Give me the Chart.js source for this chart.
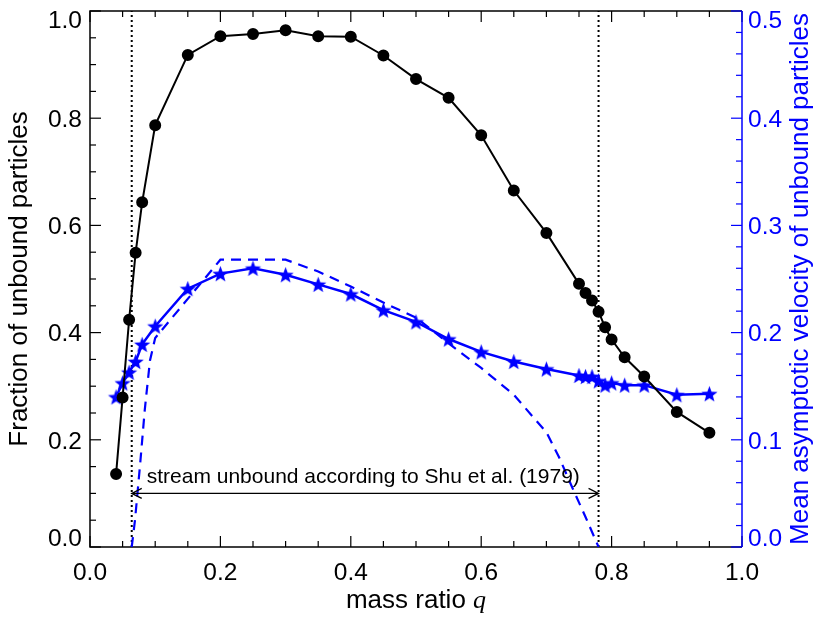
<!DOCTYPE html>
<html>
<head>
<meta charset="utf-8">
<script src="https://cdn.jsdelivr.net/npm/chart.js@4/dist/chart.umd.min.js"></script>
<style>
  body { margin: 0; background: #fff; }
  #wrap { width: 830px; height: 624px; position: relative; }
</style>
</head>
<body>
<div id="wrap"><canvas id="myChart"></canvas></div>
<script>
// fraction of unbound particles (left axis)
const qFrac = [0.04, 0.05, 0.06, 0.07, 0.08, 0.10, 0.15, 0.20, 0.25, 0.30, 0.35, 0.40, 0.45, 0.50,
  0.55, 0.60, 0.65, 0.70, 0.75, 0.76, 0.77, 0.78, 0.79, 0.80, 0.82, 0.85, 0.90, 0.95];
const fracUnbound = [0.136, 0.279, 0.424, 0.549, 0.643, 0.787, 0.918, 0.953, 0.957, 0.964, 0.953, 0.952, 0.917, 0.873,
  0.838, 0.768, 0.665, 0.586, 0.491, 0.474, 0.460, 0.439, 0.410, 0.387, 0.354, 0.318, 0.252, 0.213];

// mean asymptotic velocity of unbound particles (right axis)
const qVel = [0.04, 0.05, 0.06, 0.07, 0.08, 0.10, 0.15, 0.20, 0.25, 0.30, 0.35, 0.40, 0.45, 0.50,
  0.55, 0.60, 0.65, 0.70, 0.75, 0.76, 0.77, 0.78, 0.79, 0.80, 0.82, 0.85, 0.90, 0.95];
const velUnbound = [0.140, 0.153, 0.163, 0.173, 0.189, 0.206, 0.241, 0.255, 0.260, 0.254, 0.245, 0.236, 0.221, 0.210,
  0.194, 0.182, 0.173, 0.166, 0.160, 0.159, 0.159, 0.155, 0.151, 0.153, 0.151, 0.151, 0.142, 0.143];

// dashed curve (right axis)
const qTheory = [0.064, 0.069, 0.077, 0.084, 0.092, 0.10, 0.20, 0.30, 0.35, 0.40, 0.45, 0.50,
  0.55, 0.60, 0.65, 0.70, 0.72, 0.74, 0.76, 0.78];
const velTheory = [0.0, 0.025, 0.078, 0.128, 0.174, 0.195, 0.268, 0.268, 0.257, 0.243, 0.228, 0.214,
  0.190, 0.167, 0.142, 0.107, 0.083, 0.055, 0.028, 0.0];

// Shu et al. (1979) limits
const shuLimits = [0.064, 0.78];
const arrowLevel = 0.1;
const shuLabel = 'stream unbound according to Shu et al. (1979)';

const xTicks = [0.0, 0.2, 0.4, 0.6, 0.8, 1.0];
const fracTicks = [0.0, 0.2, 0.4, 0.6, 0.8, 1.0];
const velTicks = [0.0, 0.1, 0.2, 0.3, 0.4, 0.5];

const BLUE = '#0000ff';
const SANS = '"Liberation Sans", Arial, Helvetica, sans-serif';
const SERIF_I = 'italic 26px "Liberation Serif", "Times New Roman", serif';

function pts(xs, ys) {
    return xs.map((x, i) => ({ x: x, y: ys[i] }));
}

function makeStar(r, color) {
    const c = document.createElement('canvas');
    const s = Math.ceil(r * 2) + 2;
    c.width = s; c.height = s;
    const g = c.getContext('2d');
    g.fillStyle = color;
    g.beginPath();
    for (let i = 0; i < 10; i++) {
        const rad = i % 2 ? r * 0.42 : r;
        const a = -Math.PI / 2 + i * Math.PI / 5;
        g.lineTo(s / 2 + rad * Math.cos(a), s / 2 + rad * Math.sin(a) + r * 0.1);
    }
    g.closePath();
    g.fill();
    return c;
}

// axis frame, inward ticks, tick labels (end labels kept inside the axis), titles, arrow
const framePlugin = {
    id: 'frame',
    beforeDatasetsDraw(chart) {
        const ctx = chart.ctx;
        const { left, right, top, bottom } = chart.chartArea;
        const sx = chart.scales.x, sy = chart.scales.y, sy2 = chart.scales.y2;
        ctx.save();
        ctx.lineWidth = 1.2;
        ctx.strokeStyle = '#000';
        for (let i = 0; i <= 20; i++) {
            const px = sx.getPixelForValue(i * 0.05);
            const len = i % 4 === 0 ? 11 : 6;
            ctx.beginPath();
            ctx.moveTo(px, bottom); ctx.lineTo(px, bottom - len);
            ctx.moveTo(px, top); ctx.lineTo(px, top + len);
            ctx.stroke();
        }
        for (let i = 0; i <= 20; i++) {
            const py = sy.getPixelForValue(i * 0.05);
            const len = i % 4 === 0 ? 11 : 6;
            ctx.beginPath();
            ctx.moveTo(left, py); ctx.lineTo(left + len, py);
            ctx.stroke();
        }
        ctx.lineWidth = 1.5;
        ctx.beginPath();
        ctx.moveTo(right, top); ctx.lineTo(left, top); ctx.lineTo(left, bottom); ctx.lineTo(right, bottom);
        ctx.stroke();
        ctx.strokeStyle = BLUE;
        ctx.lineWidth = 1.2;
        for (let i = 0; i <= 25; i++) {
            const py = sy2.getPixelForValue(i * 0.02);
            const len = i % 5 === 0 ? 11 : 6;
            ctx.beginPath();
            ctx.moveTo(right, py); ctx.lineTo(right - len, py);
            ctx.stroke();
        }
        ctx.lineWidth = 1.5;
        ctx.beginPath();
        ctx.moveTo(right, top); ctx.lineTo(right, bottom);
        ctx.stroke();

        // tick labels
        ctx.font = '24.5px ' + SANS;
        ctx.textBaseline = 'alphabetic';
        const clampY = py => Math.min(Math.max(py + 8.7, top + 17), bottom - 1);
        ctx.fillStyle = '#000';
        ctx.textAlign = 'center';
        xTicks.forEach(v => ctx.fillText(v.toFixed(1), sx.getPixelForValue(v), bottom + 33));
        ctx.textAlign = 'right';
        fracTicks.forEach(v => ctx.fillText(v.toFixed(1), left - 8, clampY(sy.getPixelForValue(v))));
        ctx.fillStyle = BLUE;
        ctx.textAlign = 'left';
        velTicks.forEach(v => ctx.fillText(v.toFixed(1), right + 6, clampY(sy2.getPixelForValue(v))));
        ctx.restore();
    },
    afterDatasetsDraw(chart) {
        const ctx = chart.ctx;
        const { left, right, top, bottom } = chart.chartArea;
        const sx = chart.scales.x, sy = chart.scales.y;
        ctx.save();
        const x0 = sx.getPixelForValue(shuLimits[0]);
        const x1 = sx.getPixelForValue(shuLimits[1]);
        const ya = sy.getPixelForValue(arrowLevel);
        ctx.strokeStyle = '#000';
        ctx.lineWidth = 1.3;
        ctx.beginPath();
        ctx.moveTo(x0, ya); ctx.lineTo(x1, ya);
        ctx.moveTo(x0 + 10, ya - 5); ctx.lineTo(x0, ya); ctx.lineTo(x0 + 10, ya + 5);
        ctx.moveTo(x1 - 10, ya - 5); ctx.lineTo(x1, ya); ctx.lineTo(x1 - 10, ya + 5);
        ctx.stroke();
        ctx.fillStyle = '#000';
        ctx.font = '21px ' + SANS;
        ctx.textAlign = 'left';
        ctx.textBaseline = 'alphabetic';
        ctx.fillText(shuLabel, x0 + 15, ya - 10);

        // x title with italic q
        const t1 = 'mass ratio ';
        ctx.font = '26px ' + SANS;
        const w1 = ctx.measureText(t1).width;
        ctx.font = SERIF_I;
        const w2 = ctx.measureText('q').width;
        const cx = (left + right) / 2;
        const by = bottom + 61;
        ctx.font = '26px ' + SANS;
        ctx.fillText(t1, cx - (w1 + w2) / 2, by);
        ctx.font = SERIF_I;
        ctx.fillText('q', cx - (w1 + w2) / 2 + w1, by);

        // y titles, both reading bottom to top
        const cy = (top + bottom) / 2;
        ctx.font = '26px ' + SANS;
        ctx.textAlign = 'center';
        ctx.save();
        ctx.translate(27, cy);
        ctx.rotate(-Math.PI / 2);
        ctx.fillStyle = '#000';
        ctx.fillText('Fraction of unbound particles', 0, 0);
        ctx.restore();
        ctx.translate(808, cy);
        ctx.rotate(-Math.PI / 2);
        ctx.fillStyle = BLUE;
        ctx.fillText('Mean asymptotic velocity of unbound particles', 0, 0);
        ctx.restore();
    }
};

const ctx = document.getElementById('myChart').getContext('2d');
const starImg = makeStar(8.5, BLUE);
const noPad = s => { s.paddingTop = 0; s.paddingBottom = 0; s.paddingLeft = 0; s.paddingRight = 0; };

const myChart = new Chart(ctx, {
    type: 'line',
    data: {
        datasets: [
            {
                label: 'Fraction of unbound particles',
                data: pts(qFrac, fracUnbound),
                yAxisID: 'y',
                borderColor: '#000',
                backgroundColor: '#000',
                borderWidth: 2,
                pointRadius: 5,
                pointStyle: 'circle',
                order: 1,
            },
            {
                label: 'Mean asymptotic velocity',
                data: pts(qVel, velUnbound),
                yAxisID: 'y2',
                borderColor: BLUE,
                backgroundColor: BLUE,
                borderWidth: 2.5,
                pointStyle: starImg,
                order: 2,
            },
            {
                label: 'theory',
                data: pts(qTheory, velTheory),
                yAxisID: 'y2',
                borderColor: BLUE,
                borderWidth: 2.2,
                borderDash: [10, 7],
                pointRadius: 0,
                order: 3,
            },
            {
                label: 'Shu lower',
                data: pts([shuLimits[0], shuLimits[0]], [0, 1]),
                yAxisID: 'y',
                borderColor: '#000',
                borderWidth: 2,
                borderDash: [2, 3],
                pointRadius: 0,
                order: 4,
            },
            {
                label: 'Shu upper',
                data: pts([shuLimits[1], shuLimits[1]], [0, 1]),
                yAxisID: 'y',
                borderColor: '#000',
                borderWidth: 2,
                borderDash: [2, 3],
                pointRadius: 0,
                order: 4,
            },
        ],
    },
    options: {
        responsive: true,
        maintainAspectRatio: false,
        animation: false,
        layout: { padding: { top: 11, left: 0, right: 0, bottom: 0 } },
        plugins: { legend: { display: false }, tooltip: { enabled: false } },
        scales: {
            x: {
                type: 'linear',
                min: 0, max: 1,
                grid: { display: false },
                border: { display: false },
                ticks: { display: false },
                afterFit: s => { s.height = 77; noPad(s); },
            },
            y: {
                position: 'left',
                min: 0, max: 1,
                grid: { display: false },
                border: { display: false },
                ticks: { display: false },
                afterFit: s => { s.width = 90; noPad(s); },
            },
            y2: {
                position: 'right',
                min: 0, max: 0.5,
                grid: { display: false },
                border: { display: false },
                ticks: { display: false },
                afterFit: s => { s.width = 88; noPad(s); },
            },
        },
    },
    plugins: [framePlugin],
});
</script>
</body>
</html>
